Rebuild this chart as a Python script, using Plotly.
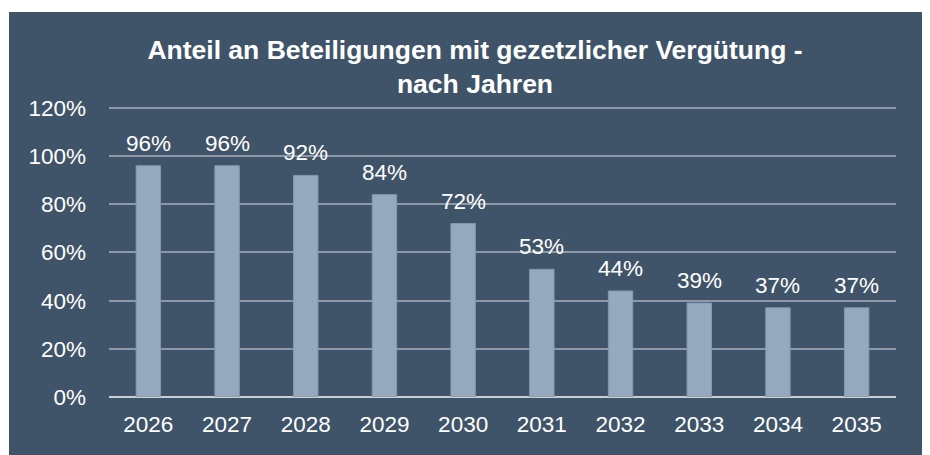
import plotly.graph_objects as go

years = ["2026", "2027", "2028", "2029", "2030", "2031", "2032", "2033", "2034", "2035"]
shares = [96, 96, 92, 84, 72, 53, 44, 39, 37, 37]
labels = ["96%", "96%", "92%", "84%", "72%", "53%", "44%", "39%", "37%", "37%"]
y_ticks = [0, 20, 40, 60, 80, 100, 120]
y_tick_text = ["0%", "20%", "40%", "60%", "80%", "100%", "120%"]

BG = "#3F5469"
BAR = "#94A9BE"
FONT = "Liberation Sans, Arial, sans-serif"

W, H = 940, 460
ML, MR, MT, MB = 101, 52, 98, 71
PW, PH = W - ML - MR, H - MT - MB

fig = go.Figure()
fig.add_trace(go.Bar(
    x=years, y=shares,
    marker=dict(color=BAR, line=dict(color="#8499AE", width=1)),
    hoverinfo="skip",
))

for i, (v, t) in enumerate(zip(shares, labels)):
    fig.add_annotation(x=i, y=v, text=t, showarrow=False, yanchor="bottom",
                       yshift=8, font=dict(family=FONT, size=22.5, color="white"))

# thin white frame strips at top and left (background detail of the original)
white_strips = [
    dict(type="rect", xref="paper", yref="paper",
         x0=-ML / PW - 0.01, x1=1 + MR / PW + 0.01,
         y0=1 + (MT - 4) / PH, y1=1 + MT / PH + 0.01,
         fillcolor="white", line=dict(width=0), layer="below"),
    dict(type="rect", xref="paper", yref="paper",
         x0=-ML / PW - 0.01, x1=-(ML - 1) / PW,
         y0=-MB / PH - 0.01, y1=1 + MT / PH + 0.01,
         fillcolor="white", line=dict(width=0), layer="below"),
]

fig.update_layout(
    width=W, height=H,
    paper_bgcolor=BG, plot_bgcolor=BG,
    margin=dict(l=ML, r=MR, t=MT, b=MB),
    showlegend=False,
    bargap=0.69,
    shapes=white_strips,
    title=dict(
        text="<b>Anteil an Beteiligungen mit gezetzlicher Vergütung -<br>nach Jahren</b>",
        x=467 / W, xanchor="center", xref="container",
        y=1 - 50.5 / H, yanchor="top",
        font=dict(family=FONT, size=26.5, color="white"),
    ),
    font=dict(family=FONT, size=22.5, color="white"),
)

fig.update_xaxes(
    type="category", range=[-0.5, 9.5],
    showgrid=False, showline=False, zeroline=False,
    ticks="", ticklabelstandoff=11,
    tickfont=dict(family=FONT, size=22.5, color="white"),
)
fig.update_yaxes(
    range=[0, 120.8], tickvals=y_ticks, ticktext=y_tick_text,
    showgrid=True, gridcolor="#8D99A6", gridwidth=1.5,
    zeroline=True, zerolinecolor="#C9CED3", zerolinewidth=2,
    ticks="", ticklabelstandoff=22,
    tickfont=dict(family=FONT, size=22.5, color="white"),
)

fig.write_html("out.html")
